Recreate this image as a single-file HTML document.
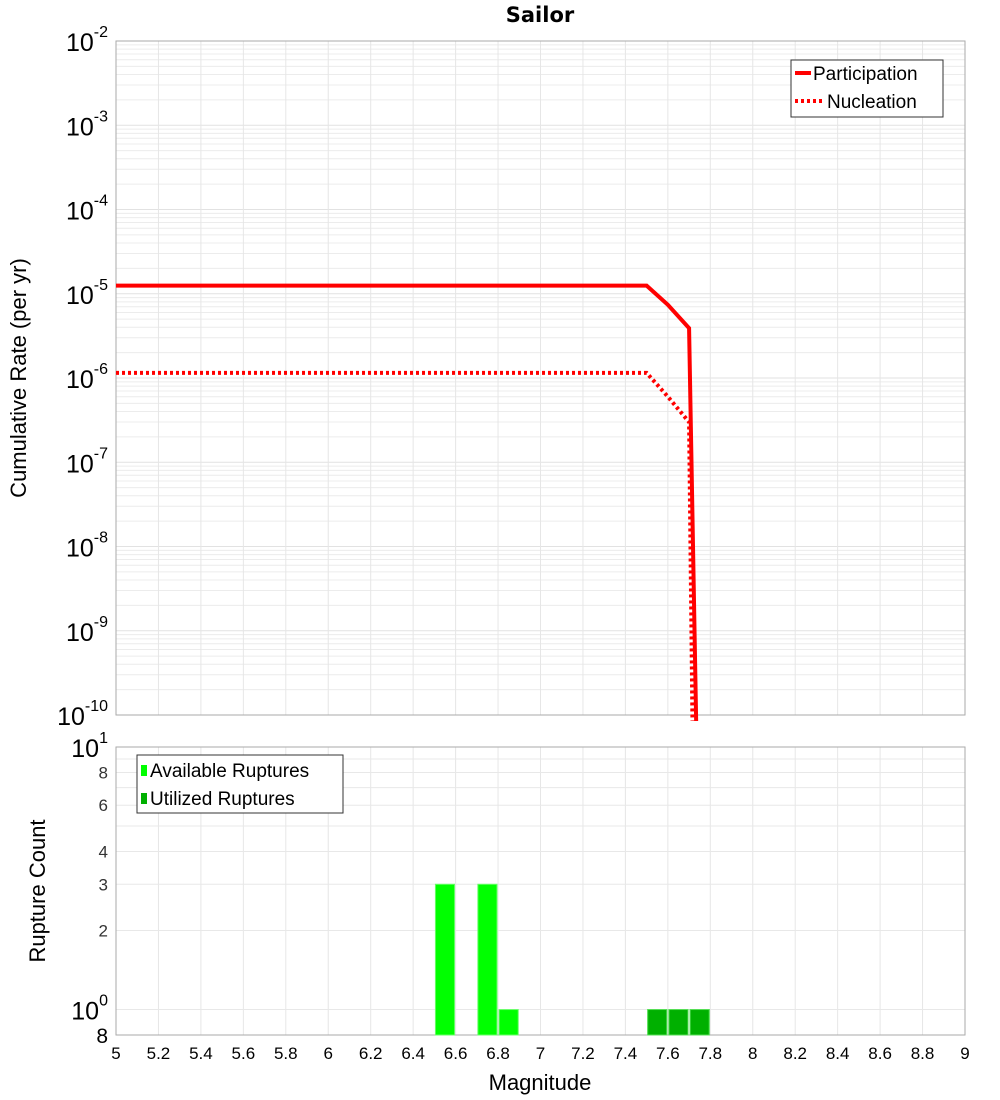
<!DOCTYPE html>
<html><head><meta charset="utf-8">
<style>
body{margin:0;background:#fff;}
svg{display:block;font-family:"Liberation Sans","DejaVu Sans",sans-serif;}
</style></head>
<body>
<svg id="chart" width="1000" height="1100" viewBox="0 0 1000 1100" xmlns="http://www.w3.org/2000/svg">
<text x="540" y="22" text-anchor="middle" font-size="21" font-weight="bold" font-family="DejaVu Sans, sans-serif">Sailor</text>
<g id="topPanel"></g>
<g id="botPanel"></g>
</svg>
<script>
// data
const partMags = [5.0, 7.5, 7.6, 7.7, 7.74];
const partRates = [1.25e-5, 1.25e-5, 7.4e-6, 3.9e-6, 1e-11];
const nuclMags = [5.0, 7.5, 7.6, 7.7, 7.72];
const nuclRates = [1.15e-6, 1.15e-6, 6.0e-7, 3.0e-7, 1e-11];
const availMags = [6.55, 6.75, 6.85, 7.55, 7.65, 7.75];
const availCounts = [3, 3, 1, 1, 1, 1];
const usedMags = [7.55, 7.65, 7.75];
const usedCounts = [1, 1, 1];
const xTicks = [5,5.2,5.4,5.6,5.8,6,6.2,6.4,6.6,6.8,7,7.2,7.4,7.6,7.8,8,8.2,8.4,8.6,8.8,9];
const topExps = [-2,-3,-4,-5,-6,-7,-8,-9,-10];

const NS="http://www.w3.org/2000/svg";
const L=116,R=965,T1=41,B1=715,T2=747,B2=1035;
const xS=m=>L+(m-5)/4*(R-L);
const yTop=v=>T1+(-2-Math.log10(v))/8*(B1-T1);
const bMin=Math.log10(0.8),bMax=1;
const yBot=v=>T2+(bMax-Math.log10(v))/(bMax-bMin)*(B2-T2);
function mk(tag,attrs,parent,text){const e=document.createElementNS(NS,tag);for(const k in attrs)e.setAttribute(k,attrs[k]);if(text!==undefined)e.textContent=text;parent.appendChild(e);return e;}
const gTop=document.getElementById('topPanel'),gBot=document.getElementById('botPanel');

// top grid
for(let d=-10;d<-2;d++){for(let k=1;k<10;k++){const y=yTop(k*Math.pow(10,d));
 const g=mk('line',{x1:L,x2:R,y1:y,y2:y,stroke:k==1?'#e2e2e2':'#ececec','stroke-width':1},gTop);
 
 }}
xTicks.forEach(t=>{const x=xS(t);const g=mk('line',{x1:x,x2:x,y1:T1,y2:B1,stroke:'#e6e6e6'},gTop);
 
 
 const g2=mk('line',{x1:x,x2:x,y1:T2,y2:B2,stroke:'#e6e6e6'},gBot);
 
 });
// bottom grid
[0.8,1,2,3,4,5,6,7,8,9,10].forEach(v=>{const y=yBot(v);const g=mk('line',{x1:L,x2:R,y1:y,y2:y,stroke:'#e8e8e8'},gBot);
 
 });

// frames
let f=mk('rect',{x:L,y:T1,width:R-L,height:B1-T1,fill:'none',stroke:'#aaa'},gTop);


f=mk('rect',{x:L,y:T2,width:R-L,height:B2-T2,fill:'none',stroke:'#aaa'},gBot);



// top tick labels
topExps.forEach(e=>{const y=yTop(Math.pow(10,e));
 const t=mk('text',{x:108,y:y+10,'text-anchor':'end','font-size':25},gTop);
 
 
 mk('tspan',{},t,'10');mk('tspan',{dy:-14,'font-size':16},t,String(e));});
let yt=mk('text',{x:0,y:0,transform:'translate(26,378) rotate(-90)','text-anchor':'middle','font-size':22},gTop,'Cumulative Rate (per yr)');



// lines (clipped)
const defs=mk('defs',{},gTop);const cp=mk('clipPath',{id:'cp'},defs);mk('rect',{x:L,y:T1,width:R-L,height:B1-T1+6},cp);
let pl=mk('polyline',{points:partMags.map((m,i)=>xS(m)+','+yTop(partRates[i])).join(' '),fill:'none',stroke:'#ff0000','stroke-width':4,'clip-path':'url(#cp)'},gTop);


pl=mk('polyline',{points:nuclMags.map((m,i)=>xS(m)+','+yTop(nuclRates[i])).join(' '),fill:'none',stroke:'#ff0000','stroke-width':4,'stroke-dasharray':'3 3','clip-path':'url(#cp)'},gTop);



// top legend
const lg=mk('g',{},gTop);


mk('rect',{x:791,y:60,width:152,height:57,fill:'#fff',stroke:'#333'},lg);
mk('line',{x1:795,x2:811,y1:73,y2:73,stroke:'#f00','stroke-width':4},lg);
let le=mk('text',{x:813,y:80,'font-size':19},lg,'Participation');


mk('line',{x1:795,x2:823,y1:101,y2:101,stroke:'#f00','stroke-width':4,'stroke-dasharray':'3 3'},lg);
le=mk('text',{x:827,y:108,'font-size':19},lg,'Nucleation');



// bars
const bw=0.09*(R-L)/4;
availMags.forEach((m,i)=>{const y=yBot(availCounts[i]);
 const b=mk('rect',{x:xS(m)-bw/2,y:y,width:bw,height:B2-y,fill:'#00ff00',stroke:'#66ff66','stroke-width':1},gBot);
 
 });
usedMags.forEach((m,i)=>{const y=yBot(usedCounts[i]);
 const b=mk('rect',{x:xS(m)-bw/2,y:y,width:bw,height:B2-y,fill:'#00b000',stroke:'#55dd55','stroke-width':1},gBot);
 
 });

// bottom y labels
[[2,'2'],[3,'3'],[4,'4'],[6,'6'],[8,'8']].forEach(([v,s])=>{const t=mk('text',{x:108,y:yBot(v)+6,'text-anchor':'end','font-size':17,fill:'#333'},gBot,s);
 
 });
[[10,'1'],[1,'0']].forEach(([v,e])=>{const t=mk('text',{x:108,y:yBot(v)+10,'text-anchor':'end','font-size':25},gBot);
 
 
 mk('tspan',{},t,'10');mk('tspan',{dy:-14,'font-size':16},t,e);});
let t8=mk('text',{x:108,y:1043,'text-anchor':'end','font-size':21},gBot,'8');


yt=mk('text',{x:0,y:0,transform:'translate(45,891) rotate(-90)','text-anchor':'middle','font-size':22},gBot,'Rupture Count');



// x labels
xTicks.forEach(t=>{const e=mk('text',{x:xS(t),y:1059,'text-anchor':'middle','font-size':17},gBot,String(t));
 
 });
let xt=mk('text',{x:540,y:1090,'text-anchor':'middle','font-size':22},gBot,'Magnitude');



// bottom legend
const bl=mk('g',{},gBot);


mk('rect',{x:137,y:755,width:206,height:58,fill:'#fff',stroke:'#333'},bl);
mk('rect',{x:141,y:765,width:6,height:11,fill:'#00ff00'},bl);
le=mk('text',{x:150,y:777,'font-size':19},bl,'Available Ruptures');


mk('rect',{x:141,y:793,width:6,height:11,fill:'#00b000'},bl);
le=mk('text',{x:150,y:805,'font-size':19},bl,'Utilized Ruptures');


</script>
</body></html>
